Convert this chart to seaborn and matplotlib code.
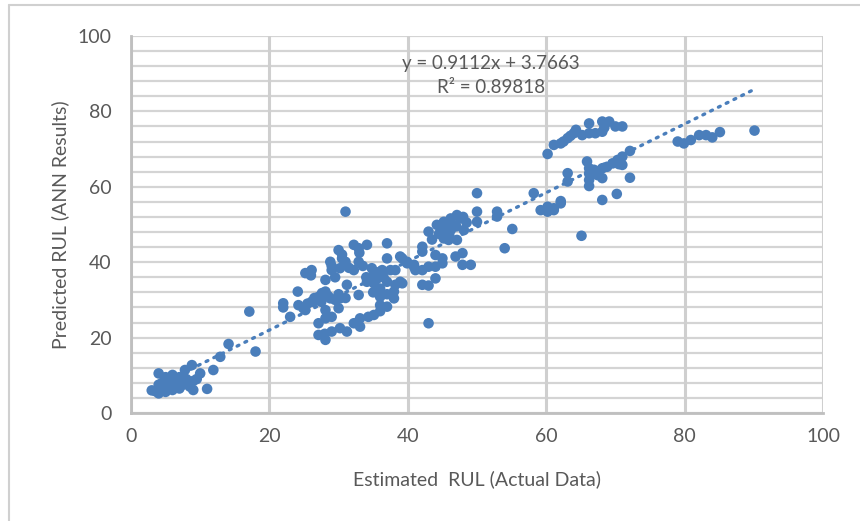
import numpy as np
import pandas as pd
import matplotlib
matplotlib.use("Agg")
import matplotlib.pyplot as plt
from matplotlib.lines import Line2D
import seaborn as sns

# Estimated RUL (actual data) vs predicted RUL (ANN results)
actual_rul = [
    # low cluster
    3, 3.5, 4, 4, 4, 4, 4.5, 4.5, 5, 5, 5, 5, 5.5, 5.5, 6, 6, 6, 6, 6.5, 6.5,
    7, 7, 7, 7.5, 7.8, 8, 8, 8.5, 8.8, 9, 9, 9.5, 10, 11, 11.9, 12.9, 14.1, 18.0, 17.1,
    # middle cluster
    22, 22, 23, 24.1, 24.2, 24.9, 25.2, 25.2, 26.1, 26.1, 26.4, 26, 27.1, 27.1, 27.6,
    28.1, 28.1, 28.8, 29.5, 28.8, 29, 29, 30, 30.2, 30.5, 31, 31, 31.2, 30.2, 30,
    28.1, 27.1, 28.1, 29, 27.1, 28.1, 28, 29, 30.2, 31.2, 32.2, 33.1, 33.1, 34.3,
    35.1, 36, 36, 36, 37, 38, 38, 38.2, 38.9, 37, 35.1, 34.8, 36.3, 37.5, 38.2,
    35.1, 36, 35.1, 34.1, 32.9, 32.2, 32.9, 34.1, 33, 32.2, 32.9, 37, 37, 38.9,
    39.9, 40.9, 35.5, 36.5, 36, 35, 37, 34, 33.5, 31.5, 30.5, 29.5, 28.5, 30, 31,
    26.5, 27.5, 25.5,
    # upper middle cluster
    39.2, 39.9, 40.9, 41.1, 42.1, 43, 44, 45, 44, 42.1, 43, 39.2, 42.1, 42.1, 44,
    45, 46.9, 47.9, 47.9, 49.1, 43, 44.2, 45.2, 46.2, 47.1, 47.6, 48, 45.2, 46.2,
    48.1, 45.2, 45.9, 47.1, 46, 47, 44.5, 46.5, 45.5, 48.5, 43.5, 43,
    # 50 - 65
    50, 50, 50, 52.9, 52.9, 55.1, 54, 58.2, 59.2, 60.2, 61.1, 62.1, 62.1, 60.2,
    61.1, 63.1, 63.1, 60.2, 65.1,
    # upper band
    61.1, 62.1, 63.1, 64, 64.3, 65.2, 66.2, 66.2, 67.1, 68.1, 68.1, 68.4, 69.1,
    70, 71, 62.5, 63.5,
    # lower band
    65.9, 66.2, 66.2, 66.2, 66.2, 66.9, 67.4, 68.1, 68.1, 68.8, 69.6, 70.3, 71,
    71, 70.5, 72.1, 72.1, 68.1, 70.2,
    # right group
    79, 79.9, 80.9, 82.1, 83.1, 84, 85.1, 90.1,
]
predicted_rul = [
    6.0, 5.8, 5.2, 6.5, 7.5, 10.5, 8.0, 6.2, 5.6, 7.0, 8.5, 9.5, 6.5, 8.0, 6.1, 7.5,
    9.0, 10.1, 7.0, 8.5, 6.5, 8.3, 9.5, 7.5, 11.4, 8.0, 9.0, 7.0, 12.7, 6.1, 8.5,
    9.0, 10.5, 6.4, 11.4, 14.9, 18.3, 16.3, 26.9,
    29.1, 28, 25.5, 32.2, 28.6, 27.8, 37.1, 27.3, 37.9, 29.5, 29.5, 36.5, 30.8, 30.0,
    31.8, 32.2, 35.3, 30.4, 30.0, 40.1, 37.9, 39, 43.2, 38.4, 42, 40.1, 53.4, 34,
    30.4, 27.8, 27.3, 23.8, 25.1, 25.5, 20.7, 19.4, 21, 21.6, 22.5, 21.6, 23.8,
    25.1, 22.9, 25.5, 26, 28.6, 30.8, 27, 28.2, 30.4, 32.2, 34, 34.8, 34.8, 36.2,
    38.4, 37.9, 37.9, 37.9, 37.5, 37.5, 34.4, 34.8, 31.3, 44.6, 43.7, 44.6, 42.5,
    37.9, 40.1, 45, 41, 41.5, 40.1, 38.8, 35.5, 36, 33, 32, 31.5, 36, 39, 38.5,
    41, 36, 31, 31.5, 30.5, 30.5, 29.5, 29,
    41, 39.7, 39.3, 37.9, 37.9, 38.8, 38.8, 39.7, 35.7, 34, 33.8, 34.4, 44.1, 42.8,
    41.9, 41, 41.5, 42.4, 39.3, 39.3, 48.1, 49.9, 50.7, 51.6, 52.5, 51.6, 52, 48.5,
    48.5, 48.5, 46.3, 45.9, 45.9, 47, 49.5, 47.5, 50, 49, 50.5, 46, 23.8,
    58.3, 53.4, 50.7, 53.4, 52.1, 48.8, 43.7, 58.3, 53.8, 53.4, 53.8, 55.6, 56.2,
    54.7, 54.3, 63.6, 61.4, 68.7, 47,
    71.1, 71.5, 72.9, 74.2, 75.1, 73.7, 76.8, 74.2, 74.2, 77.3, 74.6, 75.7, 77.3,
    76, 76, 72, 73.5,
    66.7, 64.9, 63.5, 61.8, 60.2, 64.5, 63.1, 64.9, 62.3, 65.3, 66.2, 67.1, 68,
    65.8, 66, 69.5, 62.4, 56.5, 58.1,
    72, 71.5, 72.4, 73.7, 73.7, 73.1, 74.5, 74.9,
]

# linear trendline as reported on the chart
trend_slope = 0.9112
trend_intercept = 3.7663
r_squared = 0.89818

x_ticks = [0, 20, 40, 60, 80, 100]
y_ticks = [0, 20, 40, 60, 80, 100]

df = pd.DataFrame({"actual": actual_rul, "predicted": predicted_rul})
trend_x = np.array([min(actual_rul), max(actual_rul)])
df_trend = pd.DataFrame({"x": trend_x, "y": trend_slope * trend_x + trend_intercept})

sns.set_theme(style="white")
plt.rcParams["font.family"] = ["Lato", "DejaVu Sans"]

text_color = "#595959"
blue = "#4A7EBB"

fig = plt.figure(figsize=(8.6, 5.21), dpi=100)
ax = fig.add_axes([0.1523, 0.2073, 0.8047, 0.7237])

# Excel-like gridlines: minor every 4 on y, majors every 20 on x
for yv in np.arange(0, 101, 4):
    ax.axhline(yv, color="#d4d4d4", lw=1.6, zorder=0)
for xv in x_ticks:
    ax.axvline(xv, color="#cfcfcf", lw=2.2, zorder=0)

sns.scatterplot(data=df, x="actual", y="predicted", ax=ax, color=blue,
                s=58, edgecolor="none", linewidth=0, zorder=3)
sns.lineplot(data=df_trend, x="x", y="y", ax=ax, color=blue, lw=2.4,
             linestyle=(0, (0.6, 2.0)), dash_capstyle="round", zorder=4)

ax.set_xlim(0, 100)
ax.set_ylim(0, 100)
ax.set_xticks(x_ticks)
ax.set_yticks(y_ticks)
ax.tick_params(axis="x", length=0, labelsize=14, colors=text_color, pad=11)
ax.tick_params(axis="y", length=0, labelsize=14, colors=text_color, pad=14)
for side in ["top", "right"]:
    ax.spines[side].set_visible(False)
for side in ["left", "bottom"]:
    ax.spines[side].set_color("#bfbfbf")
    ax.spines[side].set_linewidth(2)

ax.set_xlabel("Estimated  RUL (Actual Data)", fontsize=14, color=text_color, labelpad=18)
ax.set_ylabel("Predicted RUL (ANN Results)", fontsize=14, color=text_color, labelpad=6)

ax.text(52.0, 92.8, f"y = {trend_slope}x + {trend_intercept}", ha="center", va="center",
        fontsize=13.5, color=text_color, zorder=5)
ax.text(52.0, 86.3, f"R² = {r_squared}", ha="center", va="center",
        fontsize=13.5, color=text_color, zorder=5)

# chart frame (left and top edges visible)
fig.add_artist(Line2D([9 / 860, 9 / 860], [0, 1 - 5 / 521], color="#d0d0d0", lw=1.5))
fig.add_artist(Line2D([9 / 860, 1], [1 - 5 / 521, 1 - 5 / 521], color="#d0d0d0", lw=1.5))

fig.savefig("out.png", dpi=100)
